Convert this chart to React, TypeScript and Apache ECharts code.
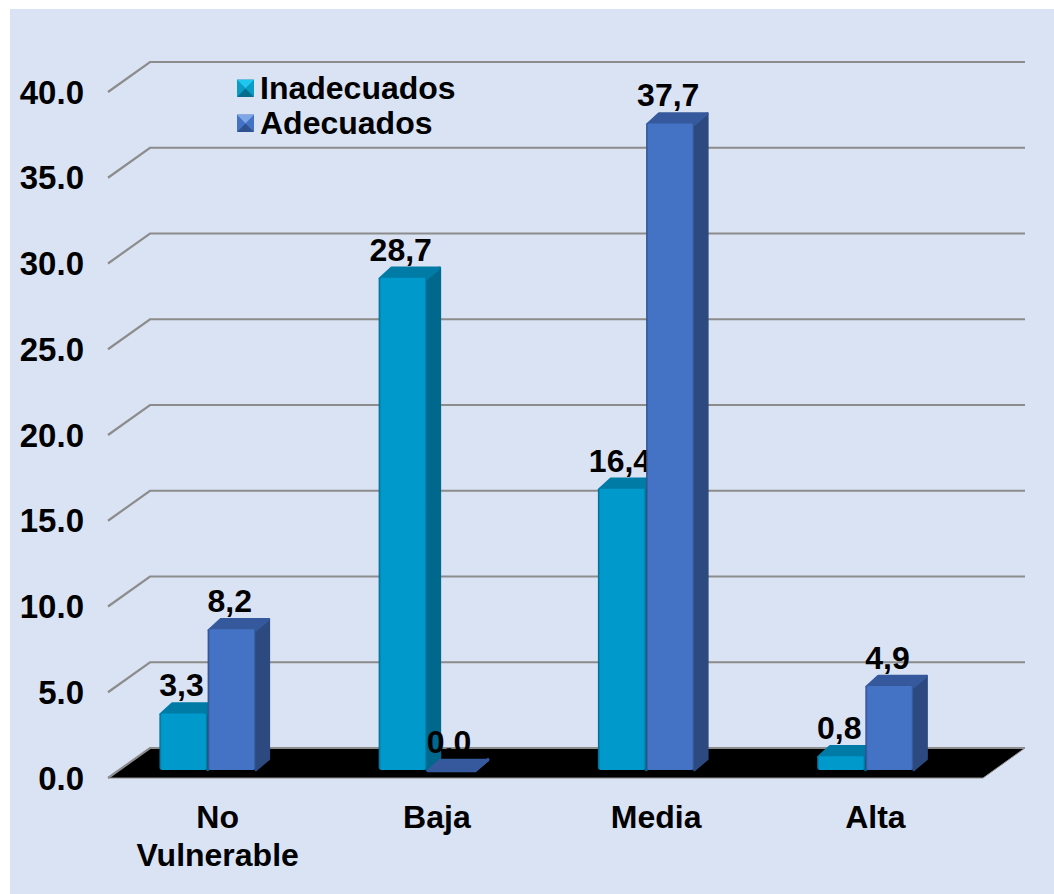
import React, { useEffect, useRef } from "react";
import * as echarts from "echarts";

const categories = ["No\nVulnerable", "Baja", "Media", "Alta"];
const inadecuados = [3.3, 28.7, 16.4, 0.8];
const adecuados = [8.2, 0.0, 37.7, 4.9];
const yTicks = [0, 5, 10, 15, 20, 25, 30, 35, 40];
const FONT = '"Liberation Sans", Arial, sans-serif';

const WALL_DX = 42;
const WALL_DY = -30;
const WALL_TRIM = 2;
const BAR_DX = 13;
const BAR_DY = -11;
const BASE_LIFT = 8;

function barRenderer(front: string, side: string, top: string, barOffset: number) {
  return (params: any, api: any) => {
    const idx = api.value(0);
    const val = api.value(1);
    const [cx, zeroY] = api.coord([idx, 0]);
    const valY = api.coord([idx, val])[1];
    const band = api.size([1, 0])[0];
    const w = band * 0.22;
    const x0 = cx - band * 0.0456 + barOffset * w;
    const x1 = x0 + w;
    const yb = zeroY - BASE_LIFT;
    const yt = valY - BASE_LIFT + 1;
    const children: any[] = [];
    const rnd = { lineWidth: 2.5, lineJoin: "round" };
    children.push({
      type: "polygon",
      shape: { points: [[x1, yb], [x1 + BAR_DX, yb + BAR_DY], [x1 + BAR_DX, yt + BAR_DY], [x1, yt]] },
      style: { fill: side, stroke: side, ...rnd },
    });
    children.push({
      type: "polygon",
      shape: { points: [[x0 + 1, yt], [x1, yt], [x1 + BAR_DX, yt + BAR_DY], [x0 + BAR_DX, yt + BAR_DY]] },
      style: { fill: top, stroke: top, ...rnd },
    });
    if (yb - yt > 1) {
      children.push({
        type: "rect",
        shape: { x: x0, y: yt - 1, width: w, height: yb - yt + 1, r: 3 },
        style: {
          fill: {
            type: "linear", x: 0, y: 0, x2: 1, y2: 0,
            colorStops: [
              { offset: 0, color: side },
              { offset: 0.05, color: front },
              { offset: 0.95, color: front },
              { offset: 1, color: side },
            ],
          },
        },
      });
    }
    children.push({
      type: "text",
      z2: 100,
      style: {
        text: val.toFixed(1).replace(".", ","),
        x: x0 + w / 2 - 2,
        y: yt - 29,
        align: "center",
        verticalAlign: "middle",
        fill: "#000",
        font: `bold 32px ${FONT}`,
      },
    });
    return { type: "group", children };
  };
}

function wallRenderer(params: any, api: any) {
  const val = api.value(0);
  const y = api.coord([0, val])[1];
  const cs = params.coordSys;
  const x0 = cs.x;
  const x1 = cs.x + cs.width - WALL_TRIM;
  const line = { stroke: "#8c8c8c", lineWidth: 2.2 };
  const children: any[] = [];
  if (val === 0) {
    children.push({
      type: "polygon",
      shape: { points: [[x0, y], [x1, y], [x1 + WALL_DX, y + WALL_DY], [x0 + WALL_DX, y + WALL_DY]] },
      style: { fill: "#000", stroke: "#8c8c8c", lineWidth: 1 },
    });
  }
  children.push({
    type: "polyline",
    shape: { points: [[x0, y], [x0 + WALL_DX, y + WALL_DY], [x1 + WALL_DX, y + WALL_DY]] },
    style: { ...line, fill: "none" },
  });
  return { type: "group", children };
}

function bevel(x: number, y: number, s: number, t: string, l: string, r: string, b: string) {
  const c = [x + s / 2, y + s / 2];
  const tri = (p: number[][], fill: string) => ({ type: "polygon", z: 20, shape: { points: p }, style: { fill } });
  return [
    tri([[x, y], [x + s, y], c], t),
    tri([[x, y], [x, y + s], c], l),
    tri([[x + s, y], [x + s, y + s], c], r),
    tri([[x, y + s], [x + s, y + s], c], b),
  ];
}

export default function App() {
  const ref = useRef<HTMLDivElement>(null);
  useEffect(() => {
    const chart = echarts.init(ref.current!, undefined, { renderer: "svg" });
    chart.setOption({
      animation: false,
      backgroundColor: "#fff",
      graphic: [
        { type: "rect", z: -10, shape: { x: 10, y: 9, width: 1044, height: 885 }, style: { fill: "#DAE3F3" } },
        ...bevel(237, 80, 17, "#1FC6EE", "#0A9CC4", "#0A9CC4", "#056E8E"),
        ...bevel(237, 115, 17, "#7FA6E6", "#4472C4", "#4472C4", "#2F5190"),
      ],
      grid: { left: 108, right: 69, top: 92, bottom: 116 },
      legend: {
        show: true,
        data: ["Inadecuados", "Adecuados"],
        orient: "vertical",
        left: 237,
        top: 72,
        padding: 0,
        itemGap: 3,
        itemWidth: 17,
        itemHeight: 17,
        icon: "rect",
        selectedMode: false,
        textStyle: { fontFamily: FONT, fontWeight: "bold", fontSize: 32, color: "#000", padding: [0, 0, 0, 1] },
      },
      xAxis: {
        type: "category",
        data: categories,
        axisLine: { show: false },
        axisTick: { show: false },
        axisLabel: {
          margin: 20,
          interval: 0,
          color: "#000",
          fontFamily: FONT,
          fontWeight: "bold",
          fontSize: 32,
          lineHeight: 38,
        },
      },
      yAxis: {
        type: "value",
        min: 0,
        max: 40,
        interval: 5,
        axisLine: { show: false },
        axisTick: { show: false },
        splitLine: { show: false },
        axisLabel: {
          margin: 24,
          color: "#000",
          fontFamily: FONT,
          fontWeight: "bold",
          fontSize: 33,
          padding: [5, 0, 0, 0],
          formatter: (v: number) => v.toFixed(1),
        },
      },
      series: [
        {
          name: "Pared",
          type: "custom",
          z: 1,
          silent: true,
          renderItem: wallRenderer,
          encode: { y: 0 },
          data: yTicks.map((v) => [v]),
        },
        {
          name: "Inadecuados",
          type: "custom",
          z: 2,
          itemStyle: { color: "#0099CC" },
          renderItem: barRenderer("#0099CC", "#00688C", "#007BA6", -1),
          encode: { x: 0, y: 1 },
          data: inadecuados.map((v, i) => [i, v]),
        },
        {
          name: "Adecuados",
          type: "custom",
          z: 3,
          itemStyle: { color: "#4472C4" },
          renderItem: barRenderer("#4472C4", "#2C4A80", "#35599C", 0),
          encode: { x: 0, y: 1 },
          data: adecuados.map((v, i) => [i, v]),
        },
      ],
    });
    return () => chart.dispose();
  }, []);
  return <div ref={ref} style={{ position: "absolute", left: 0, top: 0, width: 1054, height: 894 }} />;
}
